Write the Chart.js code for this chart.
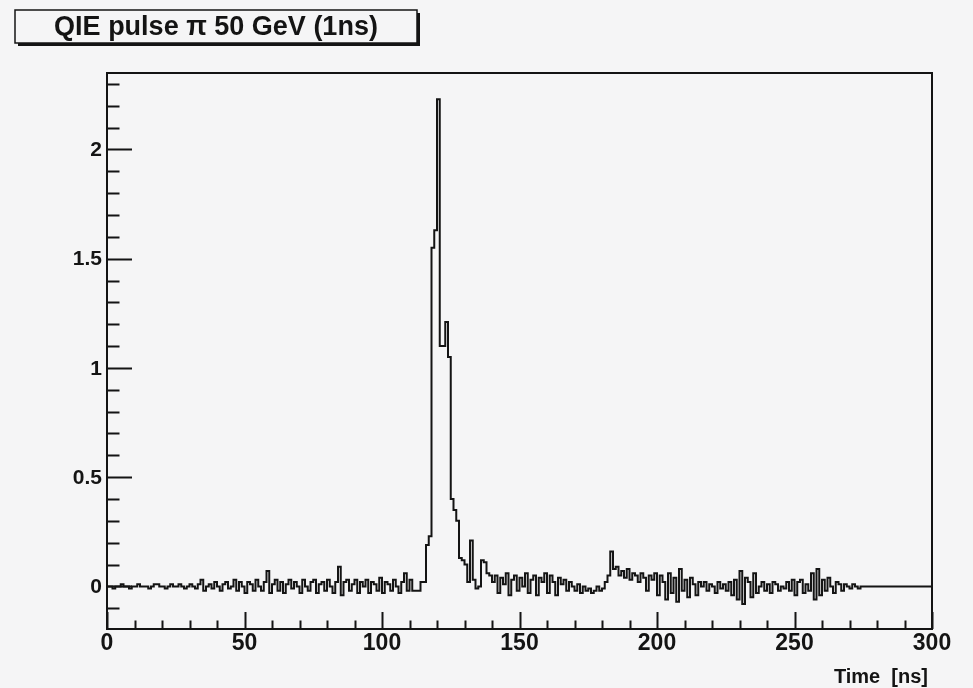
<!DOCTYPE html>
<html>
<head>
<meta charset="utf-8">
<title>QIE pulse</title>
<script src="https://cdn.jsdelivr.net/npm/chart.js@4.4.0/dist/chart.umd.min.js"></script>
<style>
    html, body { margin: 0; padding: 0; background: #f5f5f6; }
    #wrap { width: 973px; height: 688px; }
</style>
</head>
<body>
<div id="wrap"><canvas id="pulse" width="973" height="688"></canvas></div>
<script>
    "use strict";

    // Histogram: 1 ns bins from 0 to 300 ns
    var binLow = 0;
    var binWidth = 1;
    var pulse = [
        0.00, 0.00, -0.01, 0.00, 0.00, 0.01, 0.00, 0.00, -0.01, 0.00,
        0.00, 0.01, 0.00, 0.00, 0.00, -0.01, 0.00, 0.01, 0.01, 0.00,
        0.00, -0.01, 0.00, 0.01, 0.00, 0.00, 0.01, 0.00, -0.01, 0.00,
        0.01, 0.00, -0.01, 0.01, 0.03, -0.02, 0.00, 0.01, -0.01, 0.02,
        0.00, -0.02, 0.01, 0.02, -0.01, 0.00, 0.03, -0.02, 0.02, 0.00,
        -0.03, 0.02, 0.01, -0.02, 0.03, 0.00, -0.02, 0.02, 0.07, -0.03,
        0.01, 0.03, -0.02, 0.02, -0.03, 0.01, 0.03, -0.01, 0.02, 0.00,
        -0.03, 0.03, 0.00, -0.02, 0.02, 0.03, -0.03, 0.01, 0.02, -0.02,
        0.03, 0.00, -0.03, 0.02, 0.09, -0.04, 0.02, 0.03, -0.02, 0.01,
        0.03, -0.03, 0.02, 0.00, 0.03, -0.03, 0.02, 0.01, -0.02, 0.04,
        -0.03, 0.02, 0.01, -0.02, 0.03, 0.00, -0.03, 0.02, 0.06, -0.02,
        0.03, -0.02, -0.02, -0.02, 0.02, 0.02, 0.19, 0.23, 1.55, 1.63,
        2.23, 1.10, 1.10, 1.21, 1.05, 0.40, 0.35, 0.30, 0.13, 0.12,
        0.10, 0.02, 0.21, 0.03, -0.01, 0.00, 0.12, 0.11, 0.06, 0.05,
        0.02, 0.05, -0.03, 0.04, 0.01, 0.06, -0.04, 0.03, 0.05, -0.02,
        0.04, 0.00, 0.06, -0.03, 0.03, 0.05, -0.04, 0.04, 0.02, 0.06,
        -0.03, 0.05, 0.02, -0.04, 0.04, 0.01, 0.03, -0.02, 0.02, 0.00,
        -0.02, 0.01, -0.03, 0.00, -0.02, -0.01, -0.03, -0.02, 0.00, -0.02,
        -0.01, 0.02, 0.05, 0.16, 0.08, 0.09, 0.05, 0.07, 0.04, 0.08,
        0.03, 0.06, 0.05, 0.02, 0.06, 0.04, -0.02, 0.05, 0.03, 0.06,
        -0.04, 0.05, 0.02, -0.06, 0.06, -0.03, 0.04, -0.07, 0.08, -0.02,
        0.03, -0.05, 0.04, 0.01, -0.04, 0.02, 0.00, 0.02, -0.02, 0.01,
        0.00, -0.03, 0.02, -0.01, 0.01, -0.02, 0.02, -0.04, 0.03, -0.06,
        0.07, -0.08, 0.04, 0.02, -0.05, 0.06, -0.03, 0.00, 0.02, -0.02,
        0.01, -0.03, 0.02, 0.01, -0.02, 0.00, -0.01, 0.02, -0.02, 0.03,
        -0.04, 0.02, 0.03, -0.03, 0.01, -0.02, 0.06, -0.06, 0.08, -0.04,
        0.03, -0.02, 0.04, 0.00, -0.03, 0.02, 0.01, -0.02, 0.01, 0.00,
        -0.01, 0.01, 0.00, -0.01, 0.00, 0.00, 0.00, 0.00, 0.00, 0.00,
        0.00, 0.00, 0.00, 0.00, 0.00, 0.00, 0.00, 0.00, 0.00, 0.00,
        0.00, 0.00, 0.00, 0.00, 0.00, 0.00, 0.00, 0.00, 0.00, 0.00
    ];

    // Axis ranges and ticks
    var xRange = [0, 300];
    var yRange = [-0.195, 2.35];
    var xMajorTicks = [0, 50, 100, 150, 200, 250, 300];
    var xTickLabels = ["0", "50", "100", "150", "200", "250", "300"];
    var yMajorTicks = [0, 0.5, 1, 1.5, 2];
    var yTickLabels = ["0", "0.5", "1", "1.5", "2"];
    var xMinorStep = 10;
    var yMinorStep = 0.1;

    var titleText = "QIE pulse \u03C0 50 GeV (1ns)";
    var xAxisTitle = "Time  [ns]";

    var bgColor = "#f5f5f6";
    var ink = "#141414";
    var font = "'Liberation Sans', Arial, Helvetica, sans-serif";

    // histogram outline: each bin gives a flat top between its edges
    var outline = [];
    for (var i = 0; i < pulse.length; i++) {
        var lo = binLow + i * binWidth;
        outline.push({ x: lo, y: pulse[i] });
        outline.push({ x: lo + binWidth, y: pulse[i] });
    }

    // ROOT style frame, inside ticks, labels and title box
    var rootFrame = {
        id: "rootFrame",
        beforeDraw: function (chart) {
            var ctx = chart.ctx;
            ctx.save();
            ctx.fillStyle = bgColor;
            ctx.fillRect(0, 0, chart.width, chart.height);
            ctx.restore();
        },
        afterDraw: function (chart) {
            var ctx = chart.ctx;
            var a = chart.chartArea;
            var xs = chart.scales.x;
            var ys = chart.scales.y;
            ctx.save();
            ctx.strokeStyle = ink;
            ctx.fillStyle = ink;

            // frame
            ctx.lineWidth = 2;
            ctx.strokeRect(a.left, a.top, a.right - a.left, a.bottom - a.top);

            // y ticks
            ctx.lineWidth = 2;
            ctx.beginPath();
            for (var v = yRange[0]; v <= yRange[1]; v += yMinorStep) {
                var val = Math.round(v / yMinorStep) * yMinorStep;
                if (val < yRange[0] || val > yRange[1]) continue;
                var py = Math.round(ys.getPixelForValue(val)) + 0.5;
                var major = yMajorTicks.indexOf(Math.round(val * 10) / 10) >= 0;
                ctx.moveTo(a.left, py);
                ctx.lineTo(a.left + (major ? 25 : 12.5), py);
            }
            ctx.stroke();

            // x ticks
            ctx.beginPath();
            for (var t = xRange[0]; t <= xRange[1]; t += xMinorStep) {
                var px = Math.round(xs.getPixelForValue(t)) + 0.5;
                var maj = xMajorTicks.indexOf(t) >= 0;
                ctx.moveTo(px, a.bottom);
                ctx.lineTo(px, a.bottom - (maj ? 17 : 8.5));
            }
            ctx.stroke();

            // tick labels
            ctx.font = "bold 21px " + font;
            ctx.textAlign = "right";
            ctx.textBaseline = "middle";
            yMajorTicks.forEach(function (v, k) {
                ctx.fillText(yTickLabels[k], a.left - 5, ys.getPixelForValue(v) + 1);
            });
            ctx.font = "bold 23px " + font;
            ctx.textAlign = "center";
            ctx.textBaseline = "top";
            xMajorTicks.forEach(function (v, k) {
                ctx.fillText(xTickLabels[k], xs.getPixelForValue(v), a.bottom + 3);
            });

            // axis title
            ctx.font = "bold 20px " + font;
            ctx.textAlign = "right";
            ctx.textBaseline = "alphabetic";
            ctx.fillText(xAxisTitle, a.right - 4, 683);

            // title box with shadow
            var bx = 15, by = 10, bw = 402, bh = 33;
            ctx.fillStyle = ink;
            ctx.fillRect(bx + 3, by + 3, bw, bh);
            ctx.fillStyle = bgColor;
            ctx.fillRect(bx, by, bw, bh);
            ctx.lineWidth = 1.5;
            ctx.strokeRect(bx, by, bw, bh);
            ctx.fillStyle = ink;
            ctx.font = "bold 27px " + font;
            ctx.textAlign = "center";
            ctx.textBaseline = "middle";
            ctx.fillText(titleText, bx + bw / 2, by + bh / 2 + 1);

            ctx.restore();
        }
    };

    var ctx1 = document.getElementById("pulse").getContext("2d");
    var pulseChart = new Chart(ctx1, {
        type: "line",
        data: {
            datasets: [{
                label: "QIE pulse",
                data: outline,
                borderColor: ink,
                borderWidth: 2,
                pointRadius: 0,
                tension: 0,
                fill: false
            }]
        },
        options: {
            responsive: false,
            animation: false,
            devicePixelRatio: 1,
            layout: {
                padding: { left: 107, top: 73, right: 41, bottom: 59 }
            },
            plugins: {
                legend: { display: false },
                tooltip: { enabled: false }
            },
            scales: {
                x: { type: "linear", min: xRange[0], max: xRange[1], display: false },
                y: { type: "linear", min: yRange[0], max: yRange[1], display: false }
            }
        },
        plugins: [rootFrame]
    });
</script>
</body>
</html>
